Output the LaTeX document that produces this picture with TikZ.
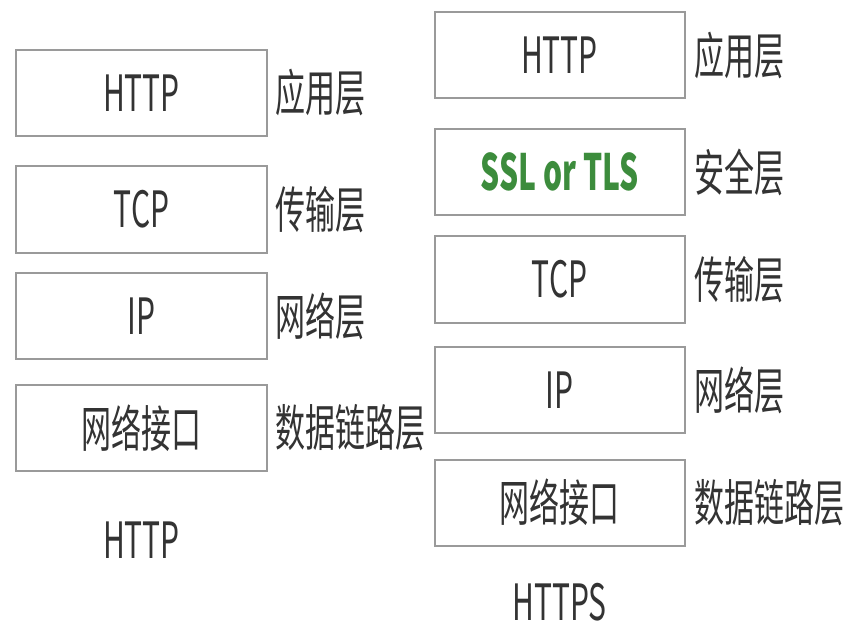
\documentclass[tikz,border=0pt]{standalone}
\usepackage{fontspec}
\setmainfont{Noto Sans CJK SC}[FakeStretch=0.6]
\definecolor{boxgray}{HTML}{9A9A9A}
\definecolor{txtgray}{HTML}{333333}
\definecolor{sslgreen}{HTML}{3C8C3C}
\tikzset{
  layer/.style={draw=boxgray,line width=2bp,minimum width=250bp,minimum height=86bp,inner sep=0pt,text=txtgray,font=\fontsize{50bp}{56bp}\selectfont},
  layername/.style={anchor=west,inner sep=0pt,text=txtgray,font=\fontsize{50bp}{56bp}\selectfont},
  stackcap/.style={inner sep=0pt,text=txtgray,font=\fontsize{50bp}{56bp}\selectfont}
}
\begin{document}
\begin{tikzpicture}[x=1bp,y=-1bp]
    \useasboundingbox (0,0) rectangle (854,629);
    % HTTP
    \node[layer]     (lhttp)   at (141.5,93)    {HTTP};
    \node[layer]     (ltcp)    at (141.5,209.5) {TCP};
    \node[layer]     (lip)     at (141.5,316)   {IP};
    \node[layer]     (lnet)    at (141.5,428)   {网络接口};
    \node[layername] (lhttpn)  at (275,93)      {应用层};
    \node[layername] (ltcpn)   at (275,209.5)   {传输层};
    \node[layername] (lipn)    at (275,316)     {网络层};
    \node[layername] (lnetn)   at (275,428)     {数据链路层};
    \node[stackcap]  (lcap)    at (141.5,540)   {HTTP};
    % HTTPS
    \node[layer]     (rhttp)   at (559.5,55.5)  {HTTP};
    \node[layer,text=sslgreen,font=\fontsize{50bp}{56bp}\selectfont\bfseries] (rssl) at (559.5,172) {SSL or TLS};
    \node[layer]     (rtcp)    at (559.5,279.5) {TCP};
    \node[layer]     (rip)     at (559.5,390)   {IP};
    \node[layer]     (rnet)    at (559.5,502.5) {网络接口};
    \node[layername] (rhttpn)  at (694,55.5)    {应用层};
    \node[layername] (rssln)   at (694,172)     {安全层};
    \node[layername] (rtcpn)   at (694,279.5)   {传输层};
    \node[layername] (ripn)    at (694,390)     {网络层};
    \node[layername] (rnetn)   at (694,502.5)   {数据链路层};
    \node[stackcap]  (rcap)    at (559.5,602)   {HTTPS};
\end{tikzpicture}
\end{document}
